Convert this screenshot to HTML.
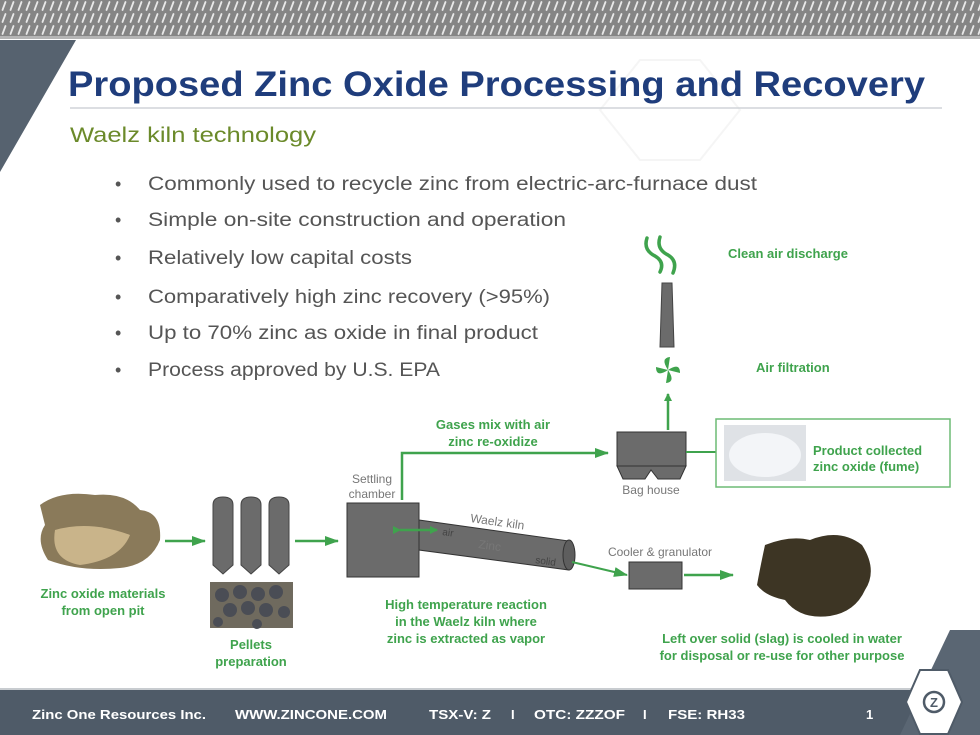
<!DOCTYPE html>
<html><head><meta charset="utf-8"><style>
html,body{margin:0;padding:0;background:#fff}
svg{display:block}
text{font-family:"Liberation Sans",sans-serif}
.g{fill:#3fa34d;font-weight:bold;font-size:13px}
.gr{fill:#777;font-size:12px}
.b{fill:#555;font-size:19px}
.f{fill:#fff;font-weight:bold;font-size:13px}
</style></head><body>
<svg width="980" height="735" viewBox="0 0 980 735" xmlns="http://www.w3.org/2000/svg">
<defs>
<pattern id="p" width="8" height="12" patternUnits="userSpaceOnUse">
<rect width="8" height="12" fill="#858585"/>
<line x1="2.5" y1="10" x2="5.5" y2="2" stroke="#e8e8e8" stroke-width="1.8" stroke-linecap="round"/>
</pattern>
<marker id="a" markerWidth="8" markerHeight="8" refX="7" refY="4" orient="auto" markerUnits="userSpaceOnUse"><path d="M0,0 L8,4 L0,8 Z" fill="#3fa34d"/></marker>
<marker id="a2" markerWidth="14" markerHeight="10" refX="13" refY="5" orient="auto" markerUnits="userSpaceOnUse"><path d="M0,0 L14,5 L0,10 Z" fill="#3fa34d"/></marker>
</defs>
<rect x="0" y="0" width="980" height="36" fill="url(#p)"/>
<rect x="0" y="36" width="980" height="3" fill="#b5b5b5"/>
<polygon points="0,40 76,40 0,172" fill="#56626f"/>
<g stroke="#f5f5f5" stroke-width="2" fill="none">
<path d="M600 110 L640 60 L700 60 L740 110 L700 160 L640 160Z"/>
</g>
<text x="68" y="96" font-size="35" font-weight="bold" fill="#1f3d7c" textLength="857" lengthAdjust="spacingAndGlyphs">Proposed Zinc Oxide Processing and Recovery</text>
<line x1="70" y1="108" x2="942" y2="108" stroke="#d0d4d8" stroke-width="1.5"/>
<text x="70" y="142" font-size="21" fill="#6b8a2a" textLength="246" lengthAdjust="spacingAndGlyphs">Waelz kiln technology</text>
<g class="b">
<text x="115" y="190" font-size="18">•</text><text x="148" y="190" textLength="609" lengthAdjust="spacingAndGlyphs">Commonly used to recycle zinc from electric-arc-furnace dust</text>
<text x="115" y="226" font-size="18">•</text><text x="148" y="226" textLength="418" lengthAdjust="spacingAndGlyphs">Simple on-site construction and operation</text>
<text x="115" y="264" font-size="18">•</text><text x="148" y="264" textLength="264" lengthAdjust="spacingAndGlyphs">Relatively low capital costs</text>
<text x="115" y="303" font-size="18">•</text><text x="148" y="303" textLength="402" lengthAdjust="spacingAndGlyphs">Comparatively high zinc recovery (&gt;95%)</text>
<text x="115" y="339" font-size="18">•</text><text x="148" y="339" textLength="390" lengthAdjust="spacingAndGlyphs">Up to 70% zinc as oxide in final product</text>
<text x="115" y="376" font-size="18">•</text><text x="148" y="376" textLength="292" lengthAdjust="spacingAndGlyphs">Process approved by U.S. EPA</text>
</g>
<!-- rock -->
<path d="M40 505 Q60 490 95 495 Q125 492 140 510 Q162 512 160 540 Q150 565 120 568 Q80 572 48 560 Q35 540 45 525Z" fill="#8a7a5a"/>
<path d="M55 530 Q90 520 130 535 Q120 560 80 565 Q50 560 55 530Z" fill="#c9b48a"/>
<text x="103" y="598" text-anchor="middle" class="g">Zinc oxide materials</text>
<text x="103" y="615" text-anchor="middle" class="g">from open pit</text>
<line x1="165" y1="541" x2="205" y2="541" stroke="#3fa34d" stroke-width="2.5" marker-end="url(#a2)"/>
<g fill="#6b6b6b" stroke="#444" stroke-width="1">
<path d="M213 505 Q213 497 223 497 Q233 497 233 505 L233 565 L223 574 L213 565Z"/>
<path d="M241 505 Q241 497 251 497 Q261 497 261 505 L261 565 L251 574 L241 565Z"/>
<path d="M269 505 Q269 497 279 497 Q289 497 289 505 L289 565 L279 574 L269 565Z"/>
</g>
<rect x="210" y="582" width="83" height="46" fill="#6f6a5e"/>
<g fill="#4a4d55"><circle cx="222" cy="595" r="7"/><circle cx="240" cy="592" r="7"/><circle cx="258" cy="594" r="7"/><circle cx="276" cy="592" r="7"/><circle cx="230" cy="610" r="7"/><circle cx="248" cy="608" r="7"/><circle cx="266" cy="610" r="7"/><circle cx="284" cy="612" r="6"/><circle cx="218" cy="622" r="5"/><circle cx="257" cy="624" r="5"/></g>
<text x="251" y="649" text-anchor="middle" class="g">Pellets</text>
<text x="251" y="666" text-anchor="middle" class="g">preparation</text>
<line x1="295" y1="541" x2="338" y2="541" stroke="#3fa34d" stroke-width="2.5" marker-end="url(#a2)"/>
<rect x="347" y="503" width="72" height="74" fill="#6b6b6b" stroke="#333"/>
<text x="372" y="483" text-anchor="middle" class="gr">Settling</text>
<text x="372" y="498" text-anchor="middle" class="gr">chamber</text>
<polyline points="402,500 402,453 608,453" fill="none" stroke="#3fa34d" stroke-width="2.5" marker-end="url(#a2)"/>
<text x="493" y="429" text-anchor="middle" class="g">Gases mix with air</text>
<text x="493" y="446" text-anchor="middle" class="g">zinc re-oxidize</text>
<polygon points="419,520 569,541 569,570 419,550" fill="#6b6b6b" stroke="#333"/>
<ellipse cx="569" cy="555" rx="6" ry="15" fill="#5e5e5e" stroke="#333"/>
<text x="470" y="522" class="gr" transform="rotate(8 470 522)">Waelz kiln</text>
<text x="478" y="548" class="gr" fill="#444" font-size="10" transform="rotate(8 478 548)">Zinc</text>
<text x="442" y="535" font-size="10" fill="#444" transform="rotate(8 442 535)">air</text>
<text x="535" y="563" font-size="10" fill="#444" transform="rotate(8 535 563)">solid</text>
<line x1="400" y1="530" x2="437" y2="530" stroke="#3fa34d" stroke-width="2.5" marker-end="url(#a)" marker-start="url(#a)"/>
<line x1="572" y1="562" x2="627" y2="575" stroke="#3fa34d" stroke-width="2" marker-end="url(#a2)"/>
<text x="466" y="609" text-anchor="middle" class="g">High temperature reaction</text>
<text x="466" y="626" text-anchor="middle" class="g">in the Waelz kiln where</text>
<text x="466" y="643" text-anchor="middle" class="g">zinc is extracted as vapor</text>
<rect x="629" y="562" width="53" height="27" fill="#6b6b6b" stroke="#333"/>
<text x="660" y="556" text-anchor="middle" class="gr">Cooler &amp; granulator</text>
<line x1="684" y1="575" x2="733" y2="575" stroke="#3fa34d" stroke-width="2.5" marker-end="url(#a2)"/>
<path d="M765 545 Q790 535 810 540 Q840 528 862 545 Q878 570 865 590 Q855 612 830 616 Q800 620 785 600 Q765 596 757 585 Q760 568 765 545Z" fill="#3d3524"/>
<text x="782" y="643" text-anchor="middle" class="g">Left over solid (slag) is cooled in water</text>
<text x="782" y="660" text-anchor="middle" class="g">for disposal or re-use for other purpose</text>
<rect x="617" y="432" width="69" height="34" fill="#6b6b6b" stroke="#333"/>
<path d="M617 466 L686 466 L680 479 L658 479 L651 470 L645 479 L623 479Z" fill="#6b6b6b" stroke="#333"/>
<text x="651" y="494" text-anchor="middle" class="gr">Bag house</text>
<line x1="668" y1="430" x2="668" y2="394" stroke="#3fa34d" stroke-width="2.5" marker-end="url(#a)"/>
<g fill="#3fa34d"><path d="M668 370 Q660 358 670 357 Z"/><path d="M668 370 Q680 362 680 373 Z"/><path d="M668 370 Q676 382 666 383 Z"/><path d="M668 370 Q656 378 656 367 Z"/></g>
<polygon points="662,283 672,283 674,347 660,347" fill="#6b6b6b" stroke="#444"/>
<g fill="none" stroke="#3fa34d" stroke-width="3.5" stroke-linecap="round">
<path d="M647 238 Q643 250 655 256 Q665 262 660 272"/>
<path d="M660 237 Q656 249 668 255 Q678 261 673 273"/>
</g>
<text x="728" y="258" class="g">Clean air discharge</text>
<text x="756" y="372" class="g">Air filtration</text>
<line x1="686" y1="452" x2="716" y2="452" stroke="#3fa34d" stroke-width="2"/>
<rect x="716" y="419" width="234" height="68" fill="#fff" stroke="#6dbb75" stroke-width="1.5"/>
<rect x="724" y="425" width="82" height="56" fill="#dfe2e6"/>
<ellipse cx="765" cy="455" rx="36" ry="22" fill="#f3f5f8"/>
<text x="813" y="455" class="g">Product collected</text>
<text x="813" y="471" class="g">zinc oxide (fume)</text>
<!-- footer -->
<rect x="0" y="690" width="980" height="45" fill="#4f5b68"/>
<rect x="0" y="688" width="980" height="2" fill="#c8ccd0"/>
<polygon points="900,735 950,630 980,630 980,735" fill="#5a6673"/>
<polygon points="920,670 948,670 962,702 948,734 920,734 906,702" fill="#fff" stroke="#4f5b68" stroke-width="2"/>
<circle cx="934" cy="702" r="10" fill="none" stroke="#4f5b68" stroke-width="2.5"/>
<text x="934" y="707" text-anchor="middle" font-size="13" font-weight="bold" fill="#4f5b68">Z</text>
<text x="32" y="719" class="f" textLength="174" lengthAdjust="spacingAndGlyphs">Zinc One Resources Inc.</text>
<text x="235" y="719" class="f" textLength="152" lengthAdjust="spacingAndGlyphs">WWW.ZINCONE.COM</text>
<text x="429" y="719" class="f" textLength="62" lengthAdjust="spacingAndGlyphs">TSX-V: Z</text>
<text x="511" y="719" class="f">I</text>
<text x="534" y="719" class="f" textLength="91" lengthAdjust="spacingAndGlyphs">OTC: ZZZOF</text>
<text x="643" y="719" class="f">I</text>
<text x="668" y="719" class="f" textLength="77" lengthAdjust="spacingAndGlyphs">FSE: RH33</text>
<text x="866" y="719" class="f">1</text>
</svg>
</body></html>
